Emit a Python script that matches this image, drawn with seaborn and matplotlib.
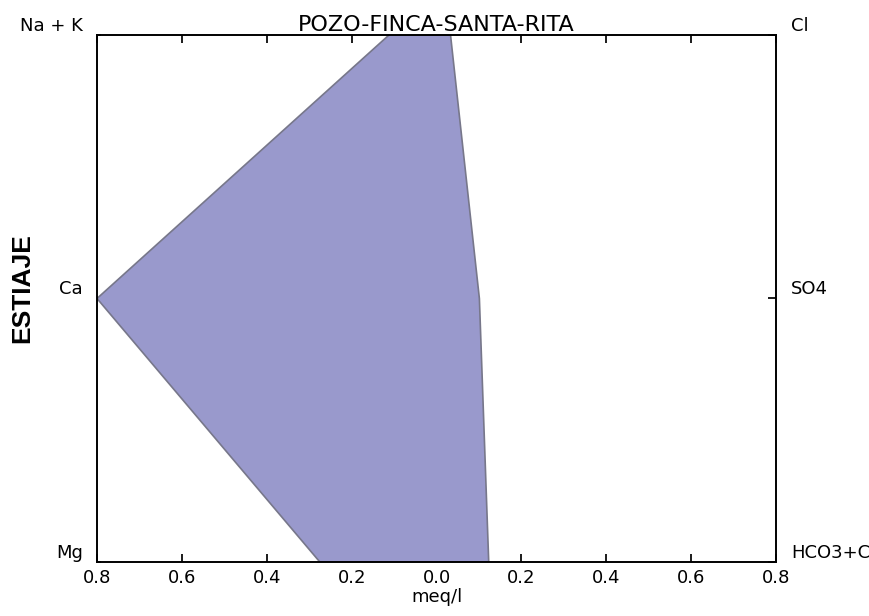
import seaborn as sns
import matplotlib.pyplot as plt
import pandas as pd

# Stiff diagram values (meq/l)
cation_labels = ['Na + K', 'Ca', 'Mg']
anion_labels = ['Cl', 'SO4', 'HCO3+CO3']
cations = [0.112, 0.80, 0.275]
anions = [0.033, 0.101, 0.123]
levels = [2, 1, 0]

sns.set_theme(style='ticks', rc={
    'xtick.direction': 'in', 'ytick.direction': 'in',
    'xtick.top': True, 'xtick.major.size': 6, 'ytick.major.size': 6,
    'axes.linewidth': 1.2, 'font.size': 13,
    'text.color': 'black', 'axes.labelcolor': 'black',
    'xtick.color': 'black', 'ytick.color': 'black', 'axes.edgecolor': 'black',
})
plt.rcParams['font.family'] = ['DejaVu Sans']

# closed outline: cations on the left (negative), anions on the right
xs = [-c for c in cations] + anions[::-1] + [-cations[0]]
ys = levels + levels[::-1] + [levels[0]]
outline = pd.DataFrame({'x': xs, 'y': ys})

fig = plt.figure(figsize=(8.7, 6.16), dpi=100)
ax = fig.add_axes([0.1115, 0.0877, 0.7805, 0.8555])

ax.fill(outline['x'], outline['y'], facecolor='#9999cc', edgecolor='none')
sns.lineplot(data=outline, x='x', y='y', sort=False, estimator=None,
             color='#77778a', linewidth=1.2, ax=ax)

ax.set_xlim(-0.8, 0.8)
ax.set_ylim(0, 2)
ticks = [-0.8, -0.6, -0.4, -0.2, 0.0, 0.2, 0.4, 0.6, 0.8]
ax.set_xticks(ticks)
ax.set_xticklabels([f'{abs(t):.1f}' for t in ticks], fontsize=13)
ax.tick_params(axis='x', pad=5)

ax.set_yticks(levels)
ax.set_yticklabels(cation_labels, fontsize=13, va='bottom')
ax.tick_params(axis='y', pad=10, length=3)

ax2 = ax.twinx()
ax2.set_ylim(0, 2)
ax2.set_yticks(levels)
ax2.set_yticklabels(anion_labels, fontsize=13, va='bottom')
ax2.tick_params(axis='y', direction='in', pad=11, length=6)
for a in (ax, ax2):
    for s in a.spines.values():
        s.set_visible(True)
        s.set_linewidth(1.2)

ax.set_title('POZO-FINCA-SANTA-RITA', fontsize=16, pad=1)
ax.set_xlabel('meq/l', fontsize=13, labelpad=1)
ax.set_ylabel('ESTIAJE', fontsize=19, fontweight='bold',
              family=['Liberation Sans', 'DejaVu Sans'])
ax.yaxis.set_label_coords(-0.092, 0.52)

fig.savefig('out.png', dpi=100)
plt.close(fig)
